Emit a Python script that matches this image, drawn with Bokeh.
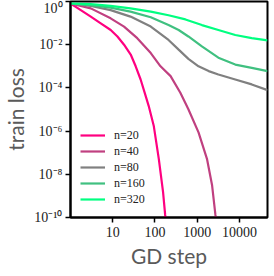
from bokeh.plotting import figure
from bokeh.models import FixedTicker, CustomJSTickFormatter, Range1d, Legend, LegendItem
from bokeh.embed import file_html
from bokeh.resources import INLINE

# GD step / train loss readings for each n
n20_x = [1, 1.75, 3.02, 5.2, 8.95, 12.9, 18.5, 26.6, 34.9, 45.7, 56.9, 70.8, 93.3, 123, 155, 174, 195]
n20_y = [0.81, 0.40, 0.20, 0.098, 0.048, 0.024, 0.010, 0.0035, 1.0e-3, 2.45e-4, 6.0e-5, 1.48e-5, 1.78e-6, 5.2e-8, 1.55e-9, 1.32e-10, 2e-11]

n40_x = [1, 3.02, 8.91, 18.5, 38.0, 79.4, 135, 234, 398, 617, 1072, 1698, 2239, 2692, 3100]
n40_y = [0.81, 0.48, 0.166, 0.069, 0.020, 0.0041, 1.0e-3, 3.5e-4, 6.0e-5, 1.02e-5, 8.7e-7, 5.2e-8, 3.2e-9, 1.32e-10, 2e-11]

n80_x = [1, 3.02, 8.91, 26.3, 79.4, 209, 363, 617, 1072, 1862, 3162, 7943, 19498, 46000]
n80_y = [0.81, 0.62, 0.40, 0.20, 0.069, 0.0166, 0.0059, 0.0022, 1.0e-3, 6.0e-4, 4.2e-4, 2.45e-4, 1.45e-4, 7.9e-5]

n160_x = [1, 3.02, 8.91, 26.3, 79.4, 209, 363, 617, 1288, 3162, 7943, 19498, 46000]
n160_y = [0.81, 0.68, 0.52, 0.34, 0.186, 0.081, 0.048, 0.024, 0.0083, 0.0025, 0.0012, 8.5e-4, 6.0e-4]

n320_x = [1, 3.02, 8.91, 26.3, 79.4, 209, 525, 1288, 3162, 7943, 19498, 46000]
n320_y = [0.81, 0.76, 0.63, 0.48, 0.34, 0.23, 0.148, 0.081, 0.048, 0.028, 0.020, 0.0158]

labels = ["n=20", "n=40", "n=80", "n=160", "n=320"]
colors = ["#ff0080", "#c04080", "#808080", "#40c080", "#00ff80"]
series = [(n20_x, n20_y), (n40_x, n40_y), (n80_x, n80_y), (n160_x, n160_y), (n320_x, n320_y)]

x_ticks = [10, 100, 1000, 10000]
y_ticks = [1e-10, 1e-8, 1e-6, 1e-4, 1e-2, 1]

p = figure(frame_width=197, frame_height=216, x_axis_type="log", y_axis_type="log",
           x_range=Range1d(1, 46000), y_range=Range1d(1e-10, 1),
           output_backend="svg", toolbar_location=None,
           min_border_top=1, min_border_right=3, min_border_left=10, min_border_bottom=2)

items = []
for (xs, ys), c, lab in zip(series, colors, labels):
    r = p.line(xs, ys, line_color=c, line_width=2.2)
    items.append(LegendItem(label=lab, renderers=[r]))

legend = Legend(items=items, location="bottom_left")
legend.background_fill_alpha = 0
legend.border_line_alpha = 0
legend.margin = 0
legend.padding = 10
legend.spacing = 0
legend.glyph_width = 25
legend.glyph_height = 16
legend.label_height = 16
legend.label_standoff = 9
legend.label_text_font = "Liberation Serif"
legend.label_text_font_size = "12px"
legend.label_text_color = "#222222"
p.add_layout(legend)

p.xgrid.visible = False
p.ygrid.visible = False
p.outline_line_color = "black"
p.outline_line_width = 2
p.outline_line_alpha = 1

p.xaxis.ticker = FixedTicker(ticks=x_ticks)
p.yaxis.ticker = FixedTicker(ticks=y_ticks)
p.xaxis.formatter = CustomJSTickFormatter(code="return tick.toFixed(0);")
p.yaxis.formatter = CustomJSTickFormatter(code="""
const sup = {'0':'\u2070','1':'\u00b9','2':'\u00b2','3':'\u00b3','4':'\u2074','5':'\u2075','6':'\u2076','7':'\u2077','8':'\u2078','9':'\u2079','-':'\u207b'};
const e = Math.round(Math.log10(tick)).toString();
let s = '';
for (const ch of e) { s += sup[ch]; }
return '10' + s;
""")

for ax in (p.xaxis[0], p.yaxis[0]):
    ax.axis_line_width = 2
    ax.axis_line_color = "black"
    ax.major_tick_out = 5
    ax.major_tick_in = 0
    ax.major_tick_line_width = 1.5
    ax.minor_tick_out = 0
    ax.minor_tick_in = 0
    ax.major_label_text_font = "Liberation Serif"
    ax.major_label_text_font_size = "14px"
    ax.major_label_text_color = "#222222"
    ax.axis_label_text_font = "Lato"
    ax.axis_label_text_font_size = "21px"
    ax.axis_label_text_font_style = "normal"
    ax.axis_label_text_color = "#5a5a5a"

p.xaxis.axis_label = "GD step"
p.yaxis.axis_label = "train loss"
p.xaxis.major_label_standoff = 4
p.yaxis.major_label_standoff = 3
p.xaxis.axis_label_standoff = 3
p.yaxis.axis_label_standoff = 3

open("out.html", "w").write(file_html(p, INLINE))
